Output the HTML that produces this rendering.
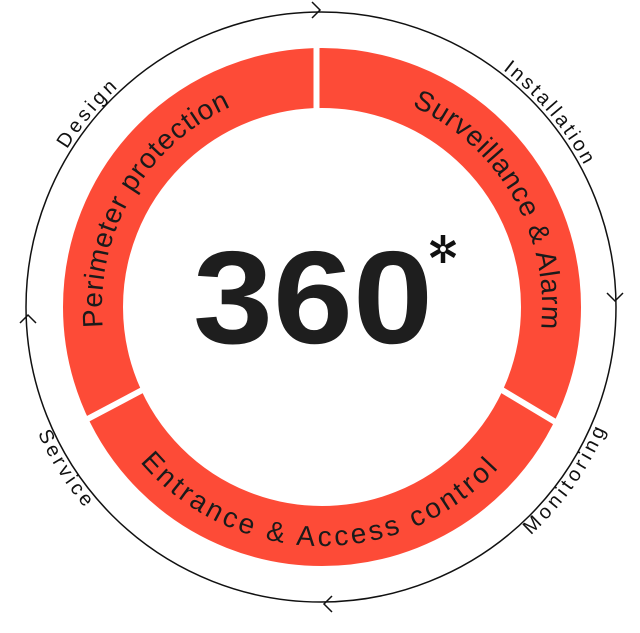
<!DOCTYPE html>
<html><head><style>html,body{margin:0;padding:0;background:#fff}svg{display:block}</style></head>
<body>
<svg width="640" height="633" viewBox="0 0 640 633" xmlns="http://www.w3.org/2000/svg" font-family="Liberation Sans, sans-serif">
<defs>
<path id="pTop" d="M 322 527 A 220 220 0 1 1 322 87 A 220 220 0 1 1 322 527"/>
<path id="pBot" d="M 83 307 A 239 239 0 0 0 561 307"/>
<path id="oTop" d="M 22 307 A 299 299 0 1 1 620 307 A 299 299 0 1 1 22 307"/>
<path id="oBot" d="M 11 307 A 310 310 0 0 0 631 307"/>
</defs>
<circle cx="321" cy="307" r="295" fill="none" stroke="#111" stroke-width="1.5"/>
<g fill="none" stroke="#111" stroke-width="1.5">
<polyline points="312,2 320,10 312,18"/>
<polyline points="607,293 615,301 623,293"/>
<polyline points="332,596 324,604 332,612"/>
<polyline points="20,323 28,315 36,323"/>
</g>
<circle cx="322" cy="307" r="229" fill="none" stroke="#fd4b37" stroke-width="60"/>
<g stroke="#fff" stroke-width="6">
<line x1="316.5" y1="40" x2="316.5" y2="112"/>
<line x1="148" y1="387" x2="80" y2="423"/>
<line x1="497" y1="387" x2="562" y2="426"/>
</g>
<g font-size="28" fill="#1a1a1a">
<text><textPath href="#pTop" startOffset="461" text-anchor="middle" textLength="272">Perimeter protection</textPath></text>
<text><textPath href="#pTop" startOffset="921" text-anchor="middle" textLength="275">Surveillance &amp; Alarm</textPath></text>
<text><textPath href="#pBot" startOffset="371" text-anchor="middle" textLength="405">Entrance &amp; Access control</textPath></text>
</g>
<g font-size="20" fill="#111">
<text><textPath href="#oTop" startOffset="206" text-anchor="middle" textLength="80">Design</textPath></text>
<text><textPath href="#oTop" startOffset="728" text-anchor="middle" textLength="126">Installation</textPath></text>
<text><textPath href="#oBot" startOffset="782" text-anchor="middle" textLength="130">Monitoring</textPath></text>
<text><textPath href="#oBot" startOffset="174" text-anchor="middle" textLength="88">Service</textPath></text>
</g>
<text x="193" y="343" font-size="132" font-weight="bold" fill="#1e1e1e" textLength="240" lengthAdjust="spacingAndGlyphs">360</text>
<g stroke="#111" stroke-width="4.5" stroke-linecap="butt">
<line x1="443" y1="235" x2="443" y2="263"/>
<line x1="431" y1="242" x2="455" y2="256"/>
<line x1="455" y1="242" x2="431" y2="256"/>
</g>
<circle cx="443" cy="249" r="3" fill="#fff"/>
</svg>
</body></html>
